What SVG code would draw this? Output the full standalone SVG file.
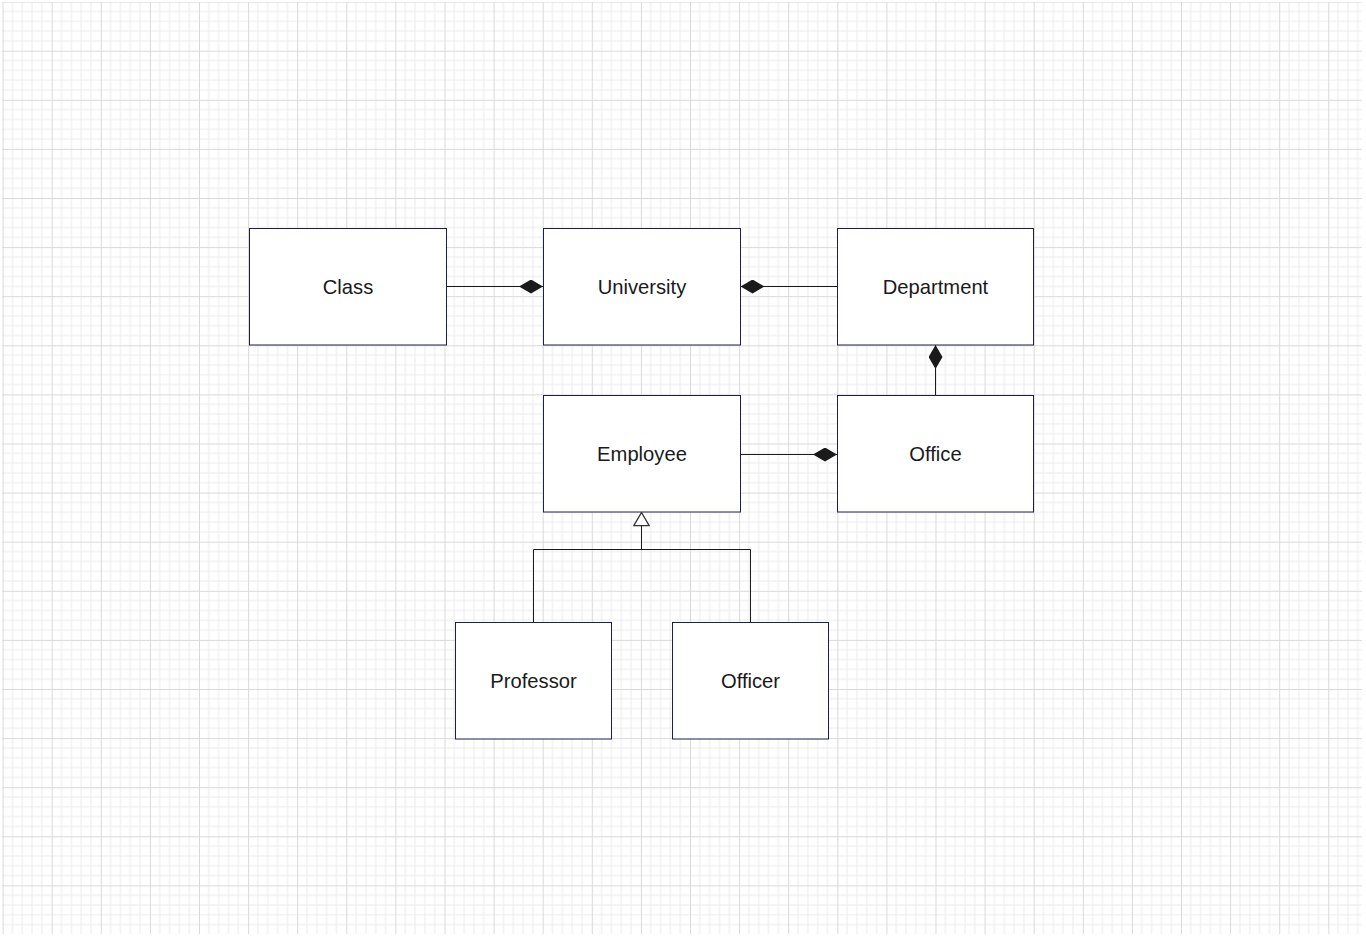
<svg xmlns="http://www.w3.org/2000/svg" width="1366" height="936" viewBox="0 0 1366 936">
  <defs>
    <pattern id="grid" patternUnits="userSpaceOnUse" x="2.6" y="1.6" width="49.1" height="49.1">
      <path d="M9.82 0V49.1M19.64 0V49.1M29.46 0V49.1M39.28 0V49.1M0 9.82H49.1M0 19.64H49.1M0 29.46H49.1M0 39.28H49.1" stroke="#ececec" stroke-width="1" fill="none"/>
      <path d="M0.5 0V49.1M0 0.5H49.1" stroke="#d9d9d9" stroke-width="1" fill="none"/>
    </pattern>
    <marker id="diamond" viewBox="0 0 24 14" refX="24" refY="7" markerWidth="24" markerHeight="14" markerUnits="userSpaceOnUse" orient="auto">
      <path d="M0 7L12 0L24 7L12 14Z" fill="#1a1a1a"/>
    </marker>
    <marker id="triangle" viewBox="0 0 15 17" refX="14" refY="8.5" markerWidth="15" markerHeight="17" markerUnits="userSpaceOnUse" orient="auto">
      <path d="M0.8 0.8L14 8.5L0.8 16.2Z" fill="#ffffff" stroke="#333333" stroke-width="1.3"/>
    </marker>
  </defs>
  <style>
    .box { fill: #ffffff; stroke: #1b1f4b; stroke-width: 1; }
    .label { font-family: "Liberation Sans", Arial, sans-serif; font-size: 20.2px; fill: #1a1a1a; text-anchor: middle; dominant-baseline: central; }
    .edge { fill: none; stroke: #1a1a1a; stroke-width: 1; }
  </style>

  <rect x="0" y="0" width="1366" height="936" fill="#ffffff"/>
  <rect x="2" y="2" width="1360" height="932" fill="url(#grid)"/>

  <g id="connectors">
    <!-- composition: Class to University -->
    <path class="edge" d="M446.5 286.5H543" marker-end="url(#diamond)"/>
    <!-- composition: Department to University -->
    <path class="edge" d="M837 286.5H740.5" marker-end="url(#diamond)"/>
    <!-- composition: Office to Department -->
    <path class="edge" d="M935.5 395V345" marker-end="url(#diamond)"/>
    <!-- composition: Employee to Office -->
    <path class="edge" d="M740.5 454.5H837" marker-end="url(#diamond)"/>
    <!-- generalization: Professor / Officer to Employee -->
    <path class="edge" d="M533.5 622V549.5H750.5V622"/>
    <path class="edge" d="M641.5 549.5V512.5" marker-end="url(#triangle)"/>
  </g>

  <g id="node-class">
    <rect class="box" x="249.5" y="228.5" width="197" height="116.5"/>
    <text class="label" x="348" y="287">Class</text>
  </g>
  <g id="node-university">
    <rect class="box" x="543.5" y="228.5" width="197" height="116.5"/>
    <text class="label" x="642" y="287">University</text>
  </g>
  <g id="node-department">
    <rect class="box" x="837.5" y="228.5" width="196" height="116.5"/>
    <text class="label" x="935.5" y="287">Department</text>
  </g>
  <g id="node-employee">
    <rect class="box" x="543.5" y="395.5" width="197" height="116.5"/>
    <text class="label" x="642" y="454">Employee</text>
  </g>
  <g id="node-office">
    <rect class="box" x="837.5" y="395.5" width="196" height="116.5"/>
    <text class="label" x="935.5" y="454">Office</text>
  </g>
  <g id="node-professor">
    <rect class="box" x="455.5" y="622.5" width="156" height="116.5"/>
    <text class="label" x="533.5" y="681">Professor</text>
  </g>
  <g id="node-officer">
    <rect class="box" x="672.5" y="622.5" width="156" height="116.5"/>
    <text class="label" x="750.5" y="681">Officer</text>
  </g>
</svg>
